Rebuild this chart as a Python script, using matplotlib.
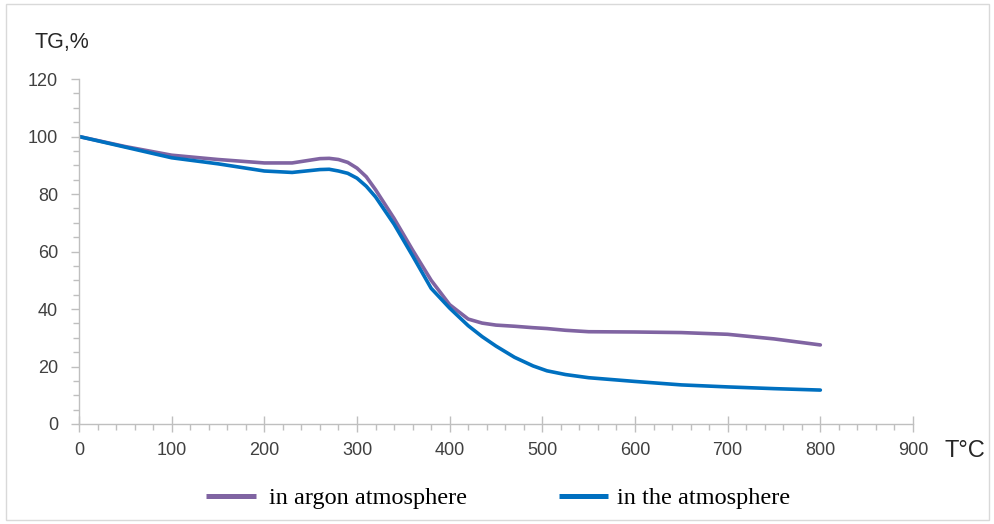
import matplotlib
matplotlib.use("Agg")
import matplotlib.pyplot as plt
from matplotlib.ticker import MultipleLocator
from matplotlib.patches import Rectangle

temps = [0, 50, 100, 150, 200, 230, 260, 270, 280, 290, 300, 310, 320, 340, 350, 360, 380, 400,
         420, 435, 450, 470, 490, 505, 525, 550, 600, 650, 700, 750, 800]
argon = [100, 96.5, 93.5, 92, 90.8, 90.8, 92.3, 92.4, 92, 91, 89, 86, 81.5, 71.5, 66, 60.5, 50, 41.5,
         36.5, 35.1, 34.4, 34.0, 33.5, 33.2, 32.6, 32.1, 32, 31.8, 31.2, 29.6, 27.5]
air = [100, 96.3, 92.6, 90.5, 88, 87.5, 88.5, 88.6, 88, 87.2, 85.5, 82.7, 79, 69.5, 64, 58.5, 47.2, 40.3,
       34.2, 30.4, 27.1, 23.2, 20.2, 18.5, 17.2, 16.1, 14.8, 13.6, 12.9, 12.3, 11.8]
series_names = ["in argon atmosphere", "in the atmosphere"]
x_ticks = [0, 100, 200, 300, 400, 500, 600, 700, 800, 900]
y_ticks = [0, 20, 40, 60, 80, 100, 120]

W, H = 995, 524
fig = plt.figure(figsize=(W / 100, H / 100), dpi=100)
fig.patches.append(Rectangle((0.006, 0.008), 0.988, 0.984, transform=fig.transFigure,
                             fill=False, edgecolor="#d9d9d9", linewidth=1.0))
ax = fig.add_axes([79 / W, 1 - 424 / H, (913 - 79) / W, (424 - 79) / H])

l1, = ax.plot(temps, argon, color="#8064A2", lw=2.6, solid_capstyle="round", solid_joinstyle="round")
l2, = ax.plot(temps, air, color="#0070C0", lw=2.6, solid_capstyle="round", solid_joinstyle="round")

ax.set_xlim(0, 900)
ax.set_ylim(0, 120)
ax.set_xticks(x_ticks)
ax.set_yticks(y_ticks)
ax.xaxis.set_minor_locator(MultipleLocator(20))
ax.yaxis.set_minor_locator(MultipleLocator(5))
for s in ["top", "right"]:
    ax.spines[s].set_visible(False)
for s in ["left", "bottom"]:
    ax.spines[s].set_color("#bfbfbf")
    ax.spines[s].set_linewidth(1.0)
ax.tick_params(axis="both", which="both", color="#bfbfbf", width=1,
               labelsize=13, labelcolor="#404040")
ax.tick_params(axis="y", which="major", length=6, pad=9)
ax.tick_params(axis="y", which="minor", length=4)
ax.tick_params(axis="x", which="major", direction="inout", length=12, pad=7)
ax.tick_params(axis="x", which="minor", length=4)
for lab in ax.get_xticklabels() + ax.get_yticklabels():
    lab.set_family("Liberation Sans")

fig.text(35 / W, 1 - 43 / H, "TG,%", fontsize=15.5, color="#262626", family="Liberation Sans", va="center")
fig.text(945 / W, 1 - 451 / H, "T°C", fontsize=17, color="#262626", family="Liberation Sans", va="center")

prop = {"family": "Liberation Serif", "size": 17.5}
leg1 = fig.legend([l1], [series_names[0]], loc="center left", bbox_to_anchor=(206 / W, 1 - 498 / H),
                  frameon=False, borderpad=0, borderaxespad=0, handlelength=2.06, handletextpad=0.53, prop=prop)
leg2 = fig.legend([l2], [series_names[1]], loc="center left", bbox_to_anchor=(559 / W, 1 - 498 / H),
                  frameon=False, borderpad=0, borderaxespad=0, handlelength=2.0, handletextpad=0.4, prop=prop)
for lg in (leg1, leg2):
    for h in lg.get_lines():
        h.set_linewidth(3.6)
        h.set_solid_capstyle("butt")

fig.savefig("out.png", dpi=100)
